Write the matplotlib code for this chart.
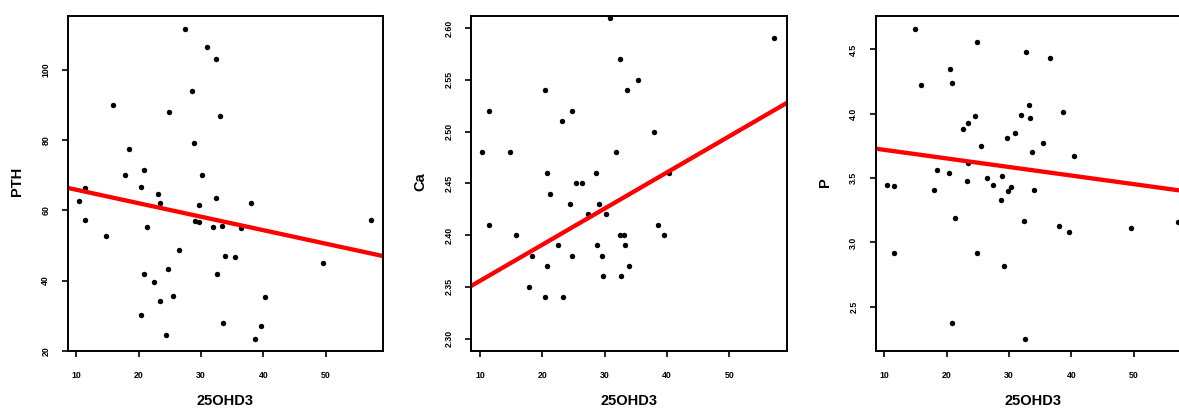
import matplotlib
matplotlib.use("Agg")
import matplotlib.pyplot as plt
from matplotlib.ticker import FixedLocator, FormatStrFormatter

plt.rcParams["font.family"] = ["Liberation Sans", "DejaVu Sans"]
plt.rcParams["font.weight"] = "bold"

# 25OHD3 vs PTH
pth_x = [27.43, 30.9, 32.4, 28.6, 15.83, 24.87, 33.1, 28.8, 18.4, 20.8, 17.8, 30.2,
         20.4, 11.44, 23.15, 32.46, 10.37, 23.37, 38.0, 29.7, 11.44, 57.2, 29.1, 29.7,
         21.28, 31.87, 33.3, 36.4, 14.8, 26.4, 33.9, 35.45, 49.6, 24.76, 20.8, 32.6,
         22.46, 25.45, 40.3, 23.37, 20.37, 33.6, 39.6, 24.4, 38.7]
pth_y = [111.6, 106.5, 103.2, 94.0, 90.0, 87.9, 86.9, 79.2, 77.6, 71.6, 70.0, 70.1,
         66.6, 66.4, 64.7, 63.5, 62.7, 62.0, 62.2, 61.5, 57.3, 57.3, 57.1, 56.8,
         55.2, 55.4, 55.6, 55.1, 52.7, 48.8, 47.0, 46.6, 44.9, 43.4, 42.0, 41.8,
         39.7, 35.5, 35.2, 34.1, 30.3, 27.8, 27.1, 24.5, 23.3]

# 25OHD3 vs Ca
ca_x = [30.94, 57.2, 32.4, 35.4, 20.4, 33.6, 11.44, 24.74, 23.14, 37.9, 10.37, 14.8,
        31.9, 20.8, 28.6, 40.3, 25.4, 26.4, 21.27, 24.4, 29.1, 27.4, 30.2, 11.44,
        38.6, 15.8, 32.5, 33.1, 39.6, 22.45, 28.8, 33.3, 18.4, 24.85, 29.6, 20.8,
        33.9, 17.8, 29.7, 32.6, 20.4, 23.35]
ca_y = [2.61, 2.59, 2.57, 2.55, 2.54, 2.54, 2.52, 2.52, 2.51, 2.50, 2.48, 2.48,
        2.48, 2.46, 2.46, 2.46, 2.45, 2.45, 2.44, 2.43, 2.43, 2.42, 2.42, 2.41,
        2.41, 2.40, 2.40, 2.40, 2.40, 2.39, 2.39, 2.39, 2.38, 2.38, 2.38, 2.37,
        2.37, 2.35, 2.36, 2.36, 2.34, 2.34]

# 25OHD3 vs P
p_x = [14.87, 24.8, 32.67, 36.5, 20.5, 15.9, 20.86, 33.15, 38.7, 32.0, 24.5, 33.4,
       23.4, 22.57, 30.96, 29.7, 35.5, 25.5, 33.7, 40.4, 23.4, 18.45, 20.4, 28.9,
       26.5, 23.2, 10.43, 27.5, 11.5, 30.27, 17.9, 33.96, 29.8, 28.66, 21.3, 32.46,
       57.1, 38.0, 49.6, 39.7, 11.5, 24.9, 29.2, 20.86, 32.57]
p_y = [4.66, 4.56, 4.48, 4.43, 4.35, 4.22, 4.24, 4.07, 4.01, 3.99, 3.98, 3.97,
       3.93, 3.88, 3.85, 3.81, 3.77, 3.75, 3.70, 3.67, 3.62, 3.56, 3.54, 3.52,
       3.50, 3.48, 3.45, 3.45, 3.44, 3.43, 3.41, 3.41, 3.40, 3.33, 3.19, 3.17,
       3.16, 3.13, 3.11, 3.08, 2.92, 2.92, 2.82, 2.37, 2.25]

# Linear fit coefficients (intercept, slope)
pth_fit = (69.7, -0.3836)
ca_fit = (2.3208, 0.003494)
p_fit = (3.786, -0.00666)

x_ticks = [10, 20, 30, 40, 50]
pth_ticks = [20, 40, 60, 80, 100]
ca_ticks = [2.30, 2.35, 2.40, 2.45, 2.50, 2.55, 2.60]
p_ticks = [2.5, 3.0, 3.5, 4.0, 4.5]

W, H = 1179, 408
fig = plt.figure(figsize=(W / 100, H / 100), dpi=100)

bottom = 57 / H
height = 335.3 / H
width = 315.2 / W

panels = [
    (67.7, pth_x, pth_y, pth_fit, "PTH", pth_ticks, (19.97, 115.4), "%d", 17.5),
    (471.3, ca_x, ca_y, ca_fit, "Ca", ca_ticks, (2.288, 2.612), "%.2f", 420.0),
    (875.7, p_x, p_y, p_fit, "P", p_ticks, (2.156, 4.762), "%.1f", 825.0),
]

for left_px, xs, ys, fit, ylabel, yticks, ylim, fmt, ylab_px in panels:
    ax = fig.add_axes([left_px / W, bottom, width, height])
    ax.plot(xs, ys, "o", color="black", markersize=3.9, markeredgewidth=0)
    ax.axline((0, fit[0]), slope=fit[1], color="#ff0000", linewidth=3.1)
    ax.set_xlim(8.62, 59.18)
    ax.set_ylim(*ylim)
    ax.xaxis.set_major_locator(FixedLocator(x_ticks))
    ax.yaxis.set_major_locator(FixedLocator(yticks))
    ax.yaxis.set_major_formatter(FormatStrFormatter(fmt))
    for s in ax.spines.values():
        s.set_linewidth(1.4)
    ax.tick_params(axis="both", direction="out", length=4.5, width=1.2,
                   labelsize=6.3)
    ax.tick_params(axis="x", pad=10.0)
    ax.tick_params(axis="y", pad=8.0, labelrotation=90)
    for lab in ax.get_yticklabels():
        lab.set_verticalalignment("center")
    ax.set_xlabel("25OHD3", fontsize=10.5, fontweight="bold", va="center")
    ax.xaxis.set_label_coords(0.5, -(401 - 351) / 335.3)
    ax.set_ylabel(ylabel, fontsize=10.5, fontweight="bold", va="center")
    ax.yaxis.set_label_coords(-(left_px - ylab_px) / 315.2, 0.505)

fig.savefig("out.png", dpi=100)
